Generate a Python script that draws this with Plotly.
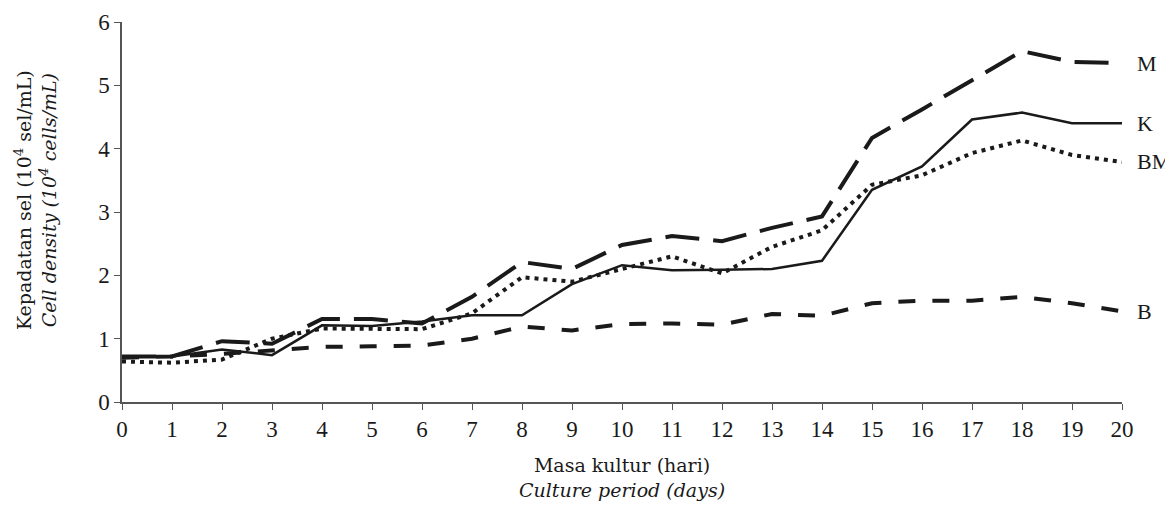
import plotly.graph_objects as go

days = list(range(0, 21))
M = [0.72, 0.72, 0.96, 0.92, 1.31, 1.31, 1.24, 1.66, 2.21, 2.10, 2.48, 2.62, 2.54, 2.75, 2.93, 4.17, 4.62, 5.08, 5.54, 5.37, 5.35]
K = [0.71, 0.72, 0.83, 0.74, 1.21, 1.20, 1.27, 1.37, 1.37, 1.86, 2.16, 2.08, 2.09, 2.10, 2.23, 3.35, 3.72, 4.46, 4.57, 4.40, 4.40]
BM = [0.64, 0.62, 0.67, 1.00, 1.16, 1.15, 1.15, 1.40, 1.97, 1.90, 2.10, 2.30, 2.03, 2.45, 2.71, 3.43, 3.58, 3.93, 4.13, 3.90, 3.79]
B = [0.70, 0.72, 0.76, 0.82, 0.87, 0.88, 0.89, 1.00, 1.19, 1.13, 1.23, 1.24, 1.22, 1.39, 1.36, 1.56, 1.60, 1.60, 1.66, 1.56, 1.43]
y_ticks = [0, 1, 2, 3, 4, 5, 6]

INK = "#1a1a1a"
serif = "Liberation Serif, Times New Roman, serif"
title_font = "DejaVu Serif, serif"

series = [
    ("M", M, dict(color=INK, width=4, dash="34px,14px")),
    ("K", K, dict(color=INK, width=2.5, dash="solid")),
    ("BM", BM, dict(color=INK, width=4, dash="4px,5px")),
    ("B", B, dict(color=INK, width=4, dash="17px,17px")),
]

fig = go.Figure()
for name, vals, ln in series:
    fig.add_trace(go.Scatter(x=days, y=vals, mode="lines", name=name, line=ln,
                             showlegend=False))
    fig.add_annotation(x=days[-1], y=vals[-1], text=name, showarrow=False,
                       xanchor="left", xshift=13, yshift=0,
                       font=dict(family=serif, size=22, color=INK))

# axis titles
fig.add_annotation(xref="paper", yref="paper", x=0.5, y=0, yshift=-50,
                   xanchor="center", yanchor="top", showarrow=False, align="center",
                   text="Masa kultur (hari)<br><i>Culture period (days)</i>",
                   font=dict(family=title_font, size=19, color=INK))
fig.add_annotation(xref="paper", yref="paper", x=0, xshift=-60, y=0.53,
                   xanchor="right", yanchor="middle", showarrow=False, align="center",
                   textangle=-90,
                   text="Kepadatan sel (10<sup>4</sup> sel/mL)<br><i>Cell density (10<sup>4</sup> cells/mL)</i>",
                   font=dict(family=title_font, size=19, color=INK))

fig.update_layout(
    width=1165, height=508,
    margin=dict(l=114, r=51, t=14, b=114, autoexpand=False),
    plot_bgcolor="white", paper_bgcolor="white",
    font=dict(family=serif, color=INK),
    xaxis=dict(range=[0, 20], tickmode="array", tickvals=days, ticktext=[str(d) for d in days],
               showgrid=False, zeroline=False, showline=True, linecolor="#555", linewidth=1.5,
               ticks="outside", ticklen=6, tickcolor="#555", automargin=False,
               tickfont=dict(family=serif, size=23, color=INK)),
    yaxis=dict(range=[0, 6], tickmode="array", tickvals=y_ticks, ticktext=[str(v) for v in y_ticks],
               showgrid=False, zeroline=False, showline=True, linecolor="#555", linewidth=1.5,
               ticks="outside", ticklen=6, tickcolor="#555", automargin=False,
               tickfont=dict(family=serif, size=23, color=INK)),
)

fig.write_html("out.html")
